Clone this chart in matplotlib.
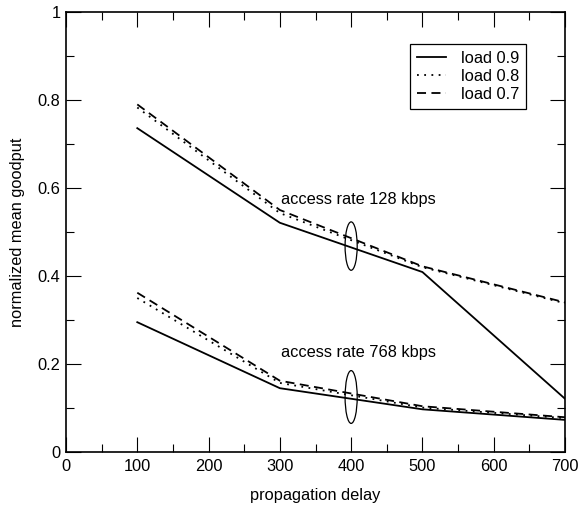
import matplotlib.pyplot as plt
from matplotlib.patches import Ellipse
from matplotlib.ticker import MultipleLocator

plt.rcParams["font.family"] = ["Liberation Sans", "DejaVu Sans"]
plt.rcParams["font.size"] = 11.8

delay = [100, 300, 500, 700]

# access rate 128 kbps
slow_09 = [0.736, 0.521, 0.409, 0.121]
slow_08 = [0.783, 0.543, 0.420, 0.338]
slow_07 = [0.790, 0.550, 0.422, 0.340]

# access rate 768 kbps
fast_09 = [0.295, 0.145, 0.097, 0.073]
fast_08 = [0.350, 0.157, 0.101, 0.077]
fast_07 = [0.362, 0.162, 0.104, 0.079]

fig = plt.figure(figsize=(5.79, 5.13), dpi=100)
ax = fig.add_axes([66 / 579, 61 / 513, 499 / 579, 440 / 513])

lw = 1.3
ax.plot(delay, slow_09, color="black", lw=lw, ls="-", label="load 0.9")
ax.plot(delay, slow_08, color="black", lw=lw, ls=(0, (1, 3)), label="load 0.8")
ax.plot(delay, slow_07, color="black", lw=lw, ls=(0, (5, 3)), label="load 0.7")
ax.plot(delay, fast_09, color="black", lw=lw, ls="-")
ax.plot(delay, fast_08, color="black", lw=lw, ls=(0, (1, 3)))
ax.plot(delay, fast_07, color="black", lw=lw, ls=(0, (5, 3)))

ax.add_patch(Ellipse((400, 0.468), 17, 0.11, fill=False, lw=0.9, color="black"))
ax.add_patch(Ellipse((400, 0.125), 17, 0.12, fill=False, lw=0.9, color="black"))
ax.text(302, 0.573, "access rate 128 kbps", va="center", ha="left")
ax.text(302, 0.227, "access rate 768 kbps", va="center", ha="left")

ax.set_xlim(0, 700)
ax.set_ylim(0, 1)
ax.xaxis.set_major_locator(MultipleLocator(100))
ax.xaxis.set_minor_locator(MultipleLocator(50))
ax.yaxis.set_major_locator(MultipleLocator(0.2))
ax.yaxis.set_minor_locator(MultipleLocator(0.1))
ax.set_yticks([0, 0.2, 0.4, 0.6, 0.8, 1])
ax.set_yticklabels(["0", "0.2", "0.4", "0.6", "0.8", "1"])
ax.tick_params(which="both", direction="in", top=True, right=True)
ax.tick_params(which="major", length=11, width=0.8)
ax.tick_params(which="minor", length=6, width=0.8)
ax.tick_params(axis="x", pad=5)
ax.tick_params(axis="y", pad=4)
for s in ax.spines.values():
    s.set_linewidth(1.2)

ax.set_xlabel("propagation delay", labelpad=10)
ax.set_ylabel("normalized mean goodput", labelpad=9)

leg = ax.legend(loc="upper right", bbox_to_anchor=(0.922, 0.927), fancybox=False,
                framealpha=1, edgecolor="black", handlelength=1.8,
                borderpad=0.4, labelspacing=0.2, handletextpad=0.9,
                borderaxespad=0)
leg.get_frame().set_linewidth(0.9)

fig.savefig("out.png", dpi=100)
